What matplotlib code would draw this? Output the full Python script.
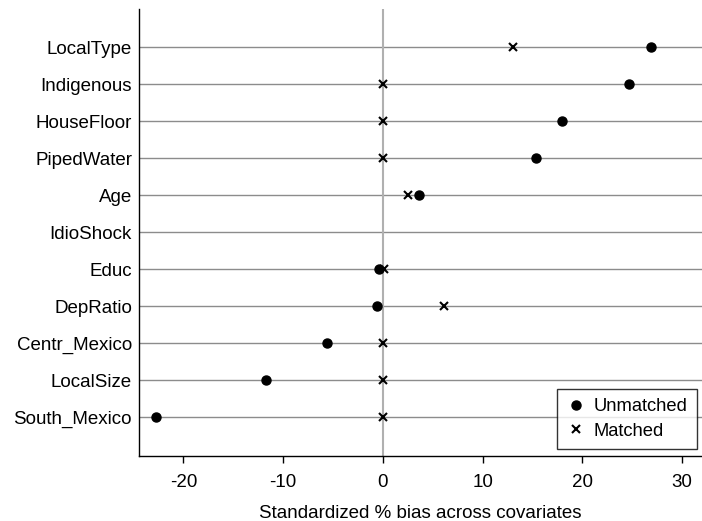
import numpy as np
import matplotlib
matplotlib.use('Agg')
import matplotlib.pyplot as plt

plt.rcParams['font.family'] = ['Liberation Sans', 'DejaVu Sans']
plt.rcParams['axes.unicode_minus'] = False

# covariates, top to bottom
covariates = ['LocalType', 'Indigenous', 'HouseFloor', 'PipedWater', 'Age', 'IdioShock',
              'Educ', 'DepRatio', 'Centr_Mexico', 'LocalSize', 'South_Mexico']
# standardized % bias before and after matching (IdioShock has no marks)
unmatched = [26.9, 24.7, 18.0, 15.4, 3.6, np.nan, -0.4, -0.6, -5.6, -11.7, -22.7]
matched = [13.0, 0.0, 0.0, 0.0, 2.5, np.nan, 0.1, 6.1, 0.0, 0.0, 0.0]
x_ticks = [-20, -10, 0, 10, 20, 30]

fig = plt.figure(figsize=(7.02, 5.21), dpi=100)
ax = fig.add_axes([0.198, 0.125, 0.802, 0.858])

ypos = np.arange(len(covariates), 0, -1)

# horizontal lines for every covariate and the zero line
for y in ypos:
    ax.axhline(y, color='#8c8c8c', linewidth=1.0, zorder=1)
ax.axvline(0, color='#b0b0b0', linewidth=1.5, zorder=1)

ax.plot(unmatched, ypos, linestyle='none', marker='o', markersize=6.5,
        color='black', label='Unmatched', zorder=3)
ax.plot(matched, ypos, linestyle='none', marker='x', markersize=5.5,
        markeredgewidth=1.5, color='black', label='Matched', zorder=4)

ax.set_xlim(-24.45, 32.0)
ax.set_ylim(-0.04, 12.04)
ax.set_xticks(x_ticks)
ax.set_yticks(ypos)
ax.set_yticklabels(covariates)
ax.tick_params(axis='y', length=0, pad=5, labelsize=13.5)
ax.tick_params(axis='x', length=5, width=1, direction='out', pad=8, labelsize=13.5)
ax.set_xlabel('Standardized % bias across covariates', fontsize=13.5, labelpad=10)

for side in ['top', 'right']:
    ax.spines[side].set_visible(False)
for side in ['left', 'bottom']:
    ax.spines[side].set_linewidth(1.0)
    ax.spines[side].set_color('black')

leg = ax.legend(loc='lower right', bbox_to_anchor=(0.991, 0.016), fontsize=13.2,
                frameon=True, fancybox=False, handletextpad=0.5, borderpad=0.5,
                handlelength=1.0, labelspacing=0.4, borderaxespad=0)
leg.get_frame().set_edgecolor('black')
leg.get_frame().set_linewidth(1.0)

fig.savefig('out.png', dpi=100)
